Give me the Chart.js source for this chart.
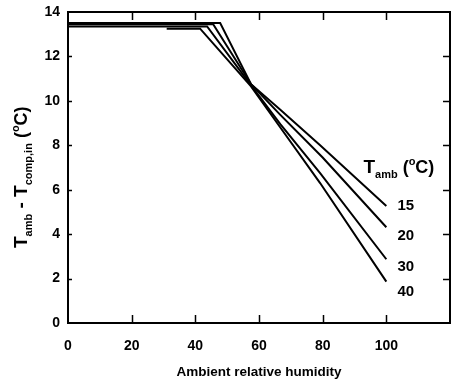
<!DOCTYPE html>
<html>
<head>
<meta charset="utf-8">
<script src="https://cdn.jsdelivr.net/npm/chart.js@4/dist/chart.umd.min.js"></script>
<style>
  html, body { margin: 0; padding: 0; background: #fff; }
  #wrap { width: 455px; height: 380px; }
</style>
</head>
<body>
<div id="wrap"><canvas id="humidityChart" width="455" height="380"></canvas></div>
<script>
// humedad relativa (x) y diferencia de temperatura (y) por curva
const humidity15 = [0, 47.8, 57.5, 66.7, 79.2, 100];
const deltaT15   = [13.5, 13.5, 10.75, 9.6, 8.0, 5.27];
const humidity20 = [0, 45.6, 57.5, 66.7, 80, 100];
const deltaT20   = [13.45, 13.45, 10.75, 9.37, 7.45, 4.31];
const humidity30 = [0, 43.7, 57.5, 66.7, 79.2, 100];
const deltaT30   = [13.35, 13.35, 10.7, 8.95, 6.75, 2.87];
const humidity40 = [31, 41.5, 57.5, 66.7, 79.2, 100];
const deltaT40   = [13.25, 13.25, 10.65, 8.8, 6.3, 1.86];

const seriesNames = ['15', '20', '30', '40'];
const xTicks = [0, 20, 40, 60, 80, 100];
const yTicks = [0, 2, 4, 6, 8, 10, 12, 14];

function toPoints(xs, ys) {
    return xs.map((x, i) => ({ x: x, y: ys[i] }));
}

const allSeries = [
    toPoints(humidity15, deltaT15),
    toPoints(humidity20, deltaT20),
    toPoints(humidity30, deltaT30),
    toPoints(humidity40, deltaT40)
];

const FONT = '"Liberation Sans", Arial, Helvetica, sans-serif';

// escribe un texto con subindices / superindices, pieza por pieza
function drawRich(ctx, parts, x, y) {
    let cx = x;
    parts.forEach(p => {
        ctx.font = p[1] + ' ' + FONT;
        ctx.fillText(p[0], cx, y + p[2]);
        cx += ctx.measureText(p[0]).width;
    });
}

// dibuja marco, marcas internas, titulo del eje y y etiquetas de curvas
const framePlugin = {
    id: 'framePlugin',
    afterDraw(chart) {
        const ctx = chart.ctx;
        const a = chart.chartArea;
        const xs = chart.scales.x;
        const ys = chart.scales.y;
        ctx.save();
        ctx.strokeStyle = '#000';
        ctx.lineWidth = 2;
        ctx.strokeRect(a.left, a.top, a.right - a.left, a.bottom - a.top);

        ctx.lineWidth = 1.5;
        ctx.beginPath();
        xTicks.forEach(v => {
            if (v === 0) return;
            const px = Math.round(xs.getPixelForValue(v)) + 0.5;
            ctx.moveTo(px, a.bottom); ctx.lineTo(px, a.bottom - 8);
            ctx.moveTo(px, a.top); ctx.lineTo(px, a.top + 8);
        });
        yTicks.forEach(v => {
            if (v === 0 || v === 14) return;
            const py = Math.round(ys.getPixelForValue(v)) + 0.5;
            ctx.moveTo(a.right, py); ctx.lineTo(a.right - 7, py);
            ctx.moveTo(a.left, py); ctx.lineTo(a.left + 4, py);
        });
        ctx.stroke();

        // titulo del eje y
        ctx.fillStyle = '#000';
        ctx.textBaseline = 'alphabetic';
        ctx.translate(27, 248);
        ctx.rotate(-Math.PI / 2);
        drawRich(ctx, [
            ['T', 'bold 19px', 0],
            ['amb', 'bold 11px', 5],
            [' - T', 'bold 19px', 0],
            ['comp,in', 'bold 11px', 5],
            [' (', 'bold 18px', 0],
            ['o', 'bold 11px', -8],
            ['C)', 'bold 18px', 0]
        ], 0, 0);
        ctx.restore();

        // leyenda: T_amb (oC)
        ctx.save();
        ctx.fillStyle = '#000';
        ctx.textBaseline = 'alphabetic';
        drawRich(ctx, [
            ['T', 'bold 19px', 0],
            ['amb', 'bold 11px', 5],
            [' (', 'bold 18px', 0],
            ['o', 'bold 11px', -8],
            ['C)', 'bold 18px', 0]
        ], xs.getPixelForValue(92.8), ys.getPixelForValue(6.75));

        // etiquetas al final de cada curva
        const labelY = [5.27, 3.92, 2.52, 1.4];
        ctx.font = 'bold 15px ' + FONT;
        ctx.textBaseline = 'middle';
        seriesNames.forEach((name, i) => {
            ctx.fillText(name, xs.getPixelForValue(103.5), ys.getPixelForValue(labelY[i]));
        });
        ctx.restore();
    }
};

const ctx = document.getElementById('humidityChart').getContext('2d');
const humidityChart = new Chart(ctx, {
    type: 'line',
    data: {
        datasets: allSeries.map((pts, i) => ({
            label: seriesNames[i],
            data: pts,
            borderColor: '#000',
            borderWidth: 2,
            pointRadius: 0,
            tension: 0,
            fill: false
        }))
    },
    options: {
        responsive: false,
        animation: false,
        layout: { padding: { top: 0, right: 5, left: 0, bottom: 0 } },
        plugins: {
            legend: { display: false },
            tooltip: { enabled: false }
        },
        scales: {
            x: {
                type: 'linear',
                min: 0,
                max: 120,
                afterFit: (scale) => {
                    scale.height = 57;
                    scale.paddingLeft = 0;
                    scale.paddingRight = 0;
                },
                afterBuildTicks: (scale) => { scale.ticks = xTicks.map(v => ({ value: v })); },
                grid: { display: false, drawTicks: false },
                border: { display: false },
                ticks: {
                    color: '#000',
                    font: { family: FONT, size: 14, weight: 'bold' },
                    padding: 15,
                    maxRotation: 0
                },
                title: {
                    display: true,
                    text: 'Ambient relative humidity',
                    color: '#000',
                    font: { family: FONT, size: 13.5, weight: 'bold' },
                    padding: { top: 0, bottom: 0 }
                }
            },
            y: {
                type: 'linear',
                min: 0,
                max: 14,
                afterFit: (scale) => {
                    scale.width = 68;
                    scale.paddingTop = 12;
                    scale.paddingBottom = 0;
                },
                afterBuildTicks: (scale) => { scale.ticks = yTicks.map(v => ({ value: v })); },
                grid: { display: false, drawTicks: false },
                border: { display: false },
                ticks: {
                    color: '#000',
                    font: { family: FONT, size: 14, weight: 'bold' },
                    padding: 8
                }
            }
        }
    },
    plugins: [framePlugin]
});
</script>
</body>
</html>
